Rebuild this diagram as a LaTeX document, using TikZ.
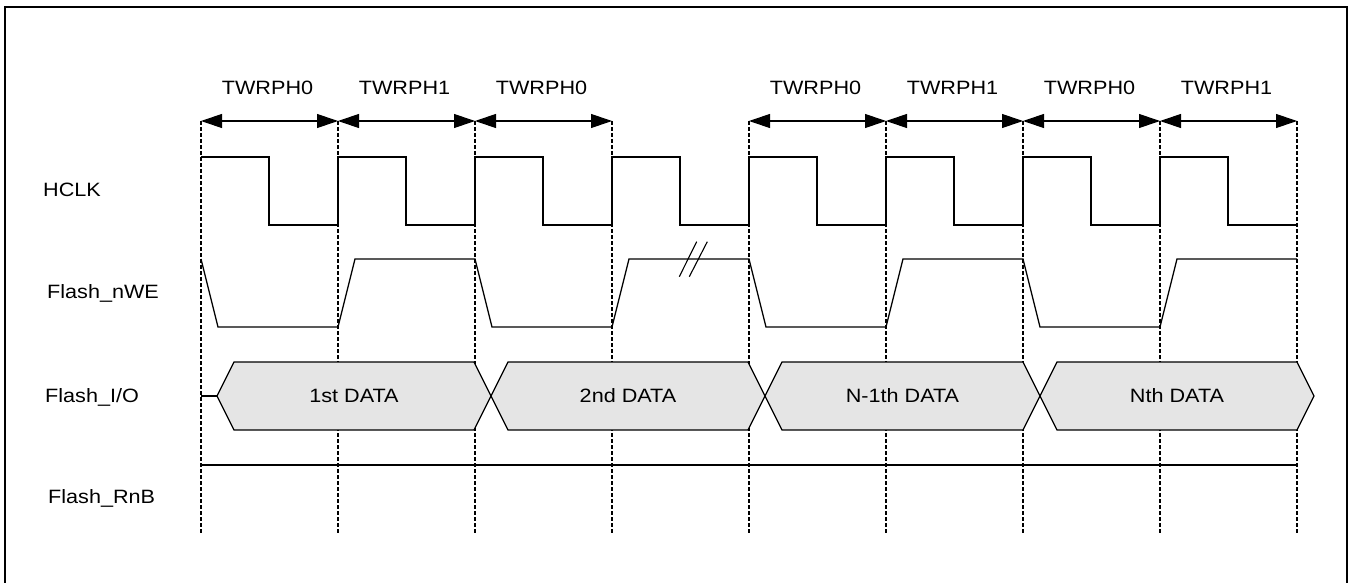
\documentclass[tikz,border=0pt]{standalone}
\usepackage{fontspec}
\setmainfont{Liberation Sans}[FakeStretch=1.12]
\usetikzlibrary{arrows.meta,calc}
\begin{document}
\begin{tikzpicture}[x=1pt,y=-1pt,
  wave/.style={line width=1.3pt,line join=miter},
  grid/.style={line width=1.1pt,dash pattern=on 4pt off 2pt},
  dim/.style={line width=1.1pt,{Triangle[length=21pt,width=14pt]}-{Triangle[length=21pt,width=14pt]}},
  bus/.style={line width=1.3pt,fill=black!10},
  lbl/.style={font=\fontsize{19.3}{22}\selectfont,inner sep=0pt},
  frame/.style={line width=2.6pt}]
\useasboundingbox (0,0) rectangle (1353,583);
\draw[frame] (5,7) rectangle (1347,595);
% tick coordinates
\foreach \i in {0,...,8} {
  \pgfmathsetmacro{\xx}{201+137*\i}
  \coordinate (t\i) at (\xx,121);
  \coordinate (b\i) at (\xx,533);
}
\foreach \i in {0,...,8} \draw[grid] (t\i) -- (b\i);
% dimension arrows and labels
\foreach \a/\b/\txt in {0/1/TWRPH0,1/2/TWRPH1,2/3/TWRPH0,4/5/TWRPH0,5/6/TWRPH1,6/7/TWRPH0,7/8/TWRPH1} {
  \draw[dim] (t\a) -- (t\b);
  \node[lbl] (L\a) at ($(t\a)!0.5!(t\b)+(-2,-33)$) {\txt};
}
% signal names
\node[lbl,anchor=west] (hclk) at (43,190) {HCLK};
\node[lbl,anchor=west] (nwe) at (47,293) {Flash\_nWE};
\node[lbl,anchor=west] (io) at (45,397) {Flash\_I/O};
\node[lbl,anchor=west] (rnb) at (48,498) {Flash\_RnB};
% HCLK
\draw[wave] (201,157) -- (269,157) -- (269,225) -- (338,225)
  -- (338,157) -- (406,157) -- (406,225) -- (475,225)
  -- (475,157) -- (543,157) -- (543,225) -- (612,225)
  -- (612,157) -- (680,157) -- (680,225) -- (749,225)
  -- (749,157) -- (817,157) -- (817,225) -- (886,225)
  -- (886,157) -- (954,157) -- (954,225) -- (1023,225)
  -- (1023,157) -- (1091,157) -- (1091,225) -- (1160,225)
  -- (1160,157) -- (1228,157) -- (1228,225) -- (1297,225);
% nWE
\draw[wave] (201,259) -- (218,327) -- (338,327) -- (355,259) -- (475,259) -- (492,327)
  -- (612,327) -- (629,259) -- (749,259) -- (766,327) -- (886,327) -- (903,259)
  -- (1023,259) -- (1040,327) -- (1160,327) -- (1177,259) -- (1297,259);
\draw[wave,line width=1.1pt] (679.3,276.7) -- (696.7,241.7);
\draw[wave,line width=1.1pt] (689.3,276.7) -- (707.3,241.7);
% I/O bus
\draw[wave] (201,396) -- (217,396);
\foreach \l/\r/\txt in {217/491/1st DATA,491/765/2nd DATA,765/1040/N-1th DATA,1040/1314/Nth DATA} {
  \draw[bus] (\l,396) -- (\l+17,362) -- (\r-17,362) -- (\r,396) -- (\r-17,430) -- (\l+17,430) -- cycle;
  \node[lbl] at ({(\l+\r)/2},396) {\txt};
}
% RnB
\draw[wave] (201,465) -- (1297,465);
\end{tikzpicture}
\end{document}
